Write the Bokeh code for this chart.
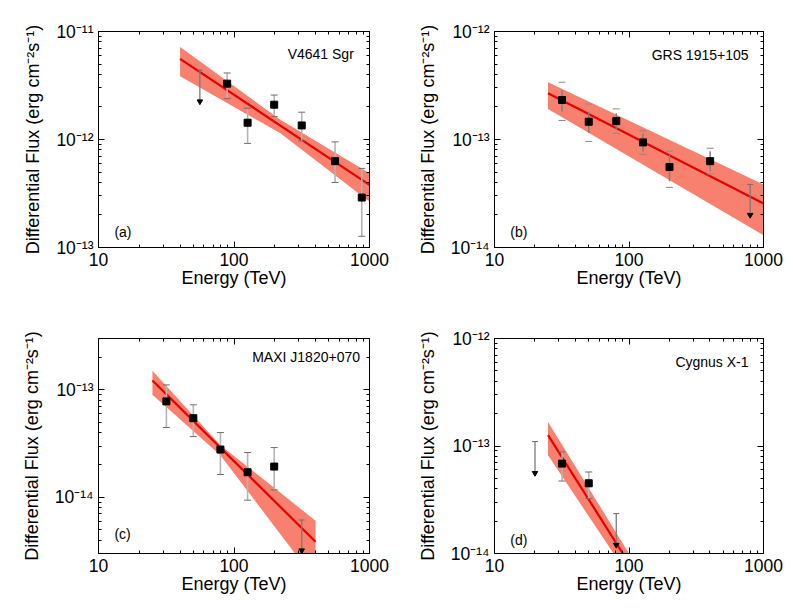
from bokeh.plotting import figure
from bokeh.layouts import column, row
from bokeh.models import (LogAxis, FixedTicker, CustomJSTickFormatter, Range1d, Label)
from bokeh.embed import file_html
from bokeh.resources import INLINE

FONT = "Liberation Sans"

# ---------------- data ----------------
# (a) V4641 Sgr
a_name = "V4641 Sgr"
a_tag = "(a)"
a_yr = (1e-13, 1e-11)
a_E = [89, 126, 198, 316, 557, 877]
a_F = [3.29e-12, 1.43e-12, 2.10e-12, 1.35e-12, 6.3e-13, 2.9e-13]
a_hi = [4.13e-12, 1.95e-12, 2.58e-12, 1.79e-12, 9.5e-13, 5.4e-13]
a_lo = [2.39e-12, 0.92e-12, 1.63e-12, 0.97e-12, 4.0e-13, 1.27e-13]
a_ul_E = [56]
a_ul_top = [4.4e-12]
a_ul_tip = [2.25e-12]
a_fit_E = [40, 1000]
a_fit_F = [5.57e-12, 3.8e-13]
a_band_E = [40, 220, 1000]
a_band_hi = [7.2e-12, 1.52e-12, 4.86e-13]
a_band_lo = [3.85e-12, 1.14e-12, 2.65e-13]

# (b) GRS 1915+105
b_name = "GRS 1915+105"
b_tag = "(b)"
b_yr = (1e-14, 1e-12)
b_E = [31.8, 50.2, 80.4, 127, 200, 401]
b_F = [2.32e-13, 1.46e-13, 1.48e-13, 9.4e-14, 5.56e-14, 6.3e-14]
b_hi = [3.39e-13, 2.13e-13, 1.92e-13, 1.20e-13, 7.8e-14, 8.3e-14]
b_lo = [1.50e-13, 9.6e-14, 1.14e-13, 7.3e-14, 3.6e-14, 4.8e-14]
b_stat_hi = [2.88e-13, 1.81e-13, 1.75e-13, 1.14e-13, 7.2e-14, 7.8e-14]
b_stat_lo = [1.81e-13, 1.15e-13, 1.23e-13, 7.76e-14, 4.1e-14, 5.05e-14]
b_ul_E = [796]
b_ul_top = [3.84e-14]
b_ul_tip = [2.0e-14]
b_fit_E = [25, 1000]
b_fit_F = [2.68e-13, 2.56e-14]
b_band_E = [25, 1000]
b_band_hi = [3.39e-13, 3.84e-14]
b_band_lo = [1.92e-13, 1.3e-14]

# (c) MAXI J1820+070
c_name = "MAXI J1820+070"
c_tag = "(c)"
c_yr = (3e-15, 3e-13)
c_E = [31.7, 50.1, 79.4, 126, 198]
c_F = [7.8e-14, 5.44e-14, 2.78e-14, 1.71e-14, 1.93e-14]
c_hi = [1.11e-13, 7.25e-14, 4.0e-14, 2.61e-14, 2.9e-14]
c_lo = [4.46e-14, 3.67e-14, 1.63e-14, 9.4e-15, 1.17e-14]
c_ul_E = [316]
c_ul_top = [6.15e-15]
c_ul_tip = [3.2e-15]
c_fit_E = [25, 400]
c_fit_F = [1.22e-13, 3.86e-15]
c_band_E = [25, 79, 400]
c_band_hi = [1.5e-13, 3.07e-14, 6.05e-15]
c_band_lo = [9.0e-14, 2.48e-14, 1.68e-15]

# (d) Cygnus X-1
d_name = "Cygnus X-1"
d_tag = "(d)"
d_yr = (1e-14, 1e-12)
d_E = [31.8, 50.2]
d_F = [6.86e-14, 4.5e-14]
d_hi = [8.8e-14, 5.73e-14]
d_lo = [4.72e-14, 3.24e-14]
d_ul_E = [20.0, 80.4]
d_ul_top = [1.1e-13, 2.35e-14]
d_ul_tip = [5.6e-14, 1.2e-14]
d_fit_E = [25, 100]
d_fit_F = [1.26e-13, 8.1e-15]
d_band_E = [25, 100]
d_band_hi = [1.67e-13, 1.0e-14]
d_band_lo = [8.2e-14, 6.1e-15]

# label positions (data coords)
a_tag_pos = (13.1, 1.4e-13); a_name_pos = (766, 6.15e-12)
b_tag_pos = (13.1, 1.4e-14); b_name_pos = (774, 6.08e-13)
c_tag_pos = (13.1, 4.6e-15); c_name_pos = (851, 2.04e-13)
d_tag_pos = (13.1, 1.34e-14); d_name_pos = (774, 6.05e-13)

X_RANGE = (10, 1000)

SUP = ("{'-':'\u207b','0':'\u2070','1':'\u00b9','2':'\u00b2','3':'\u00b3','4':'\u2074',"
       "'5':'\u2075','6':'\u2076','7':'\u2077','8':'\u2078','9':'\u2079'}")


def decade_ticks(lo, hi):
    import math
    e0 = math.floor(math.log10(lo)) - 1
    e1 = math.ceil(math.log10(hi)) + 1
    major = [10.0 ** e for e in range(e0, e1 + 1)]
    minor = [m * 10.0 ** e for e in range(e0, e1 + 1) for m in range(2, 10)]
    return major, minor


def style_axis(ax, labels):
    ax.axis_line_color = "black"
    ax.axis_line_width = 1
    ax.major_tick_in = 6
    ax.major_tick_out = 0
    ax.minor_tick_in = 3
    ax.minor_tick_out = 0
    ax.major_tick_line_color = "black"
    ax.minor_tick_line_color = "black"
    ax.major_label_text_font = FONT
    ax.major_label_text_font_size = "17.5px"
    ax.major_label_text_color = "black"
    ax.axis_label_text_font = FONT
    ax.axis_label_text_font_size = "18px"
    ax.axis_label_text_font_style = "normal"
    ax.axis_label_text_color = "black"
    if not labels:
        ax.formatter = CustomJSTickFormatter(code="return '';")
        ax.major_label_text_font_size = "1px"


def make_panel(yr, E, F, hi, lo, ul_E, ul_top, ul_tip, fit_E, fit_F,
               band_E, band_hi, band_lo, name, tag, name_pos, tag_pos,
               width, height, bl, br, bt, bb, stat_hi=None, stat_lo=None):
    p = figure(width=width, height=height, x_axis_type="log", y_axis_type="log",
               x_range=Range1d(*X_RANGE), y_range=Range1d(*yr),
               output_backend="svg", toolbar_location=None,
               min_border_left=bl, min_border_right=br,
               min_border_top=bt, min_border_bottom=bb)
    p.grid.visible = False
    p.outline_line_color = "black"
    p.background_fill_color = "white"
    p.border_fill_color = "white"

    xmaj, xmin = decade_ticks(*X_RANGE)
    ymaj, ymin = decade_ticks(*yr)
    xt = FixedTicker(ticks=xmaj, minor_ticks=xmin)
    yt = FixedTicker(ticks=ymaj, minor_ticks=ymin)

    xa = p.xaxis[0]
    xa.ticker = xt
    xa.formatter = CustomJSTickFormatter(code="return Math.round(tick).toString();")
    xa.axis_label = "Energy (TeV)"
    style_axis(xa, True)
    xa.major_label_standoff = 5
    xa.axis_label_standoff = -1

    ya = p.yaxis[0]
    ya.ticker = yt
    ya.formatter = CustomJSTickFormatter(code=(
        "const s = " + SUP + ";"
        "const e = Math.round(Math.log10(tick));"
        "return '10' + String(e).split('').map(c => s[c]).join('');"))
    ya.axis_label = "Differential Flux (erg cm\u207b\u00b2s\u207b\u00b9)"
    style_axis(ya, True)
    ya.major_label_standoff = 5
    ya.axis_label_standoff = 10

    ax_r = LogAxis(ticker=FixedTicker(ticks=ymaj, minor_ticks=ymin))
    style_axis(ax_r, False)
    p.add_layout(ax_r, "right")
    ax_t = LogAxis(ticker=FixedTicker(ticks=xmaj, minor_ticks=xmin))
    style_axis(ax_t, False)
    p.add_layout(ax_t, "above")

    # butterfly band and fit line
    p.varea(x=band_E, y1=band_lo, y2=band_hi, fill_color="#f8806f", fill_alpha=1.0)
    p.line(x=fit_E, y=fit_F, line_color="#e60000", line_width=2.2)

    # error bars
    if stat_hi is not None:
        p.segment(x0=E, y0=stat_lo, x1=E, y1=stat_hi, line_color="#808080", line_width=1.5)
        p.scatter(x=E, y=hi, marker="dash", size=7, line_color="#8a8a8a", line_width=1)
        p.scatter(x=E, y=lo, marker="dash", size=7, line_color="#8a8a8a", line_width=1)
    else:
        p.segment(x0=E, y0=lo, x1=E, y1=hi, line_color="#b4b4b4", line_width=1.6)
        p.scatter(x=E, y=hi, marker="dash", size=7, line_color="#6e6e6e", line_width=1)
        p.scatter(x=E, y=lo, marker="dash", size=7, line_color="#6e6e6e", line_width=1)

    # upper limits
    p.segment(x0=ul_E, y0=ul_tip, x1=ul_E, y1=ul_top, line_color="#7a7a7a", line_width=1.3)
    p.scatter(x=ul_E, y=ul_top, marker="dash", size=6, line_color="#6e6e6e", line_width=1)
    p.scatter(x=ul_E, y=ul_tip, marker="inverted_triangle", size=5.5,
              fill_color="black", line_color="black")

    # points
    p.scatter(x=E, y=F, marker="square", size=7, fill_color="black", line_color="black")

    p.add_layout(Label(x=name_pos[0], y=name_pos[1], text=name, text_align="right",
                       text_baseline="middle", text_font=FONT, text_font_size="14px",
                       text_color="black"))
    p.add_layout(Label(x=tag_pos[0], y=tag_pos[1], text=tag, text_align="left",
                       text_baseline="middle", text_font=FONT, text_font_size="14px",
                       text_color="black"))
    return p


pa = make_panel(a_yr, a_E, a_F, a_hi, a_lo, a_ul_E, a_ul_top, a_ul_tip, a_fit_E, a_fit_F,
                a_band_E, a_band_hi, a_band_lo, a_name, a_tag, a_name_pos, a_tag_pos,
                399, 308, 98, 30, 31, 61)
pb = make_panel(b_yr, b_E, b_F, b_hi, b_lo, b_ul_E, b_ul_top, b_ul_tip, b_fit_E, b_fit_F,
                b_band_E, b_band_hi, b_band_lo, b_name, b_tag, b_name_pos, b_tag_pos,
                386, 308, 95, 22, 31, 61, stat_hi=b_stat_hi, stat_lo=b_stat_lo)
pc = make_panel(c_yr, c_E, c_F, c_hi, c_lo, c_ul_E, c_ul_top, c_ul_tip, c_fit_E, c_fit_F,
                c_band_E, c_band_hi, c_band_lo, c_name, c_tag, c_name_pos, c_tag_pos,
                399, 300, 98, 30, 30, 55)
pd_ = make_panel(d_yr, d_E, d_F, d_hi, d_lo, d_ul_E, d_ul_top, d_ul_tip, d_fit_E, d_fit_F,
                 d_band_E, d_band_hi, d_band_lo, d_name, d_tag, d_name_pos, d_tag_pos,
                 386, 300, 95, 22, 30, 55)

layout = column(row(pa, pb), row(pc, pd_))

with open("out.html", "w") as f:
    f.write(file_html(layout, INLINE))
